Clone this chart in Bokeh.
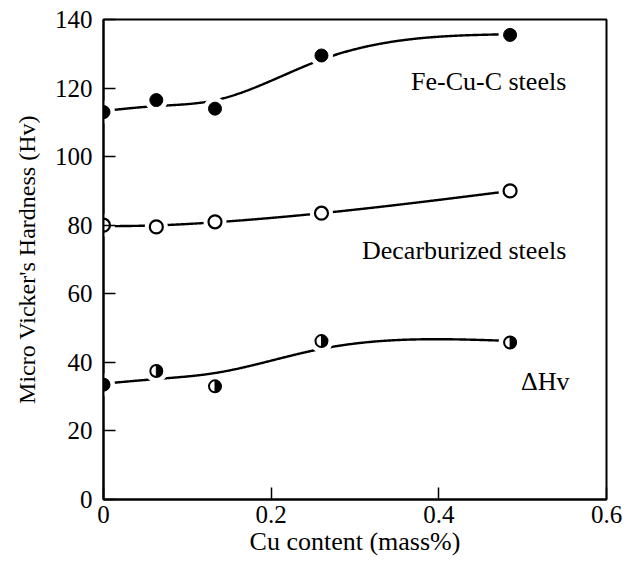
import numpy as np
from bokeh.plotting import figure
from bokeh.models import Range1d, FixedTicker, PrintfTickFormatter
from bokeh.core.properties import value
from bokeh.embed import file_html
from bokeh.resources import INLINE

# ---- data ----
cu_content = [0.0, 0.063, 0.133, 0.26, 0.485]
fe_cu_c = [113.0, 116.5, 114.0, 129.5, 135.5]
decarburized = [80.0, 79.5, 81.0, 83.5, 90.0]
delta_hv = [33.5, 37.5, 33.0, 46.2, 45.8]

x_ticks = [0, 0.2, 0.4, 0.6]
y_ticks = [0, 20, 40, 60, 80, 100, 120, 140]

labels = ["Fe-Cu-C steels", "Decarburized steels", "\u0394Hv"]

FONT = "Liberation Serif"


def smooth_curve(xd, yd, lam, n=486):
    """Whittaker-type smoothing trend line through the measured points."""
    xd = np.asarray(xd, float)
    yd = np.asarray(yd, float)
    xs = np.linspace(xd.min(), xd.max(), n)
    idx = np.clip(np.round((xd - xd.min()) / (xd.max() - xd.min()) * (n - 1)).astype(int), 0, n - 1)
    w = np.zeros(n)
    z = np.zeros(n)
    w[idx] = 1.0
    z[idx] = yd
    D = np.diff(np.eye(n), 2, axis=0)
    A = np.diag(w) + lam * D.T @ D
    f = np.linalg.solve(A, w * z)
    return xs, f


p = figure(width=622, height=565, output_backend="svg", toolbar_location=None,
           x_range=Range1d(0, 0.6), y_range=Range1d(0, 140),
           min_border_left=103, min_border_right=16, min_border_top=19, min_border_bottom=66,
           background_fill_color="white", border_fill_color="white")
p.xgrid.visible = False
p.ygrid.visible = False
p.outline_line_color = "black"
p.outline_line_width = 2
p.outline_line_alpha = 1

for ax in (p.xaxis[0], p.yaxis[0]):
    ax.axis_line_width = 2
    ax.axis_line_color = "black"
    ax.major_tick_in = 12
    ax.major_tick_out = 0
    ax.major_tick_line_width = 1.5
    ax.minor_tick_line_color = None
    ax.major_label_text_font = FONT
    ax.major_label_text_font_size = "25px"
    ax.major_label_text_color = "black"
    ax.axis_label_text_font = FONT
    ax.axis_label_text_font_style = "normal"
    ax.axis_label_text_color = "black"

p.xaxis.ticker = FixedTicker(ticks=x_ticks)
p.yaxis.ticker = FixedTicker(ticks=y_ticks)
p.xaxis.formatter = PrintfTickFormatter(format="%g")
p.yaxis.formatter = PrintfTickFormatter(format="%g")
p.xaxis.axis_label = "Cu content (mass%)"
p.yaxis.axis_label = "Micro Vicker's Hardness (Hv)"
p.xaxis.axis_label_text_font_size = "26px"
p.yaxis.axis_label_text_font_size = "24px"
p.xaxis.major_label_standoff = 6
p.yaxis.major_label_standoff = 11
p.xaxis.axis_label_standoff = 1
p.yaxis.axis_label_standoff = 12

LINE_W = 2.4
series = [(fe_cu_c, 6e4), (decarburized, 1e5), (delta_hv, 2e5)]
for ys, lam in series:
    xs, f = smooth_curve(cu_content, ys, lam)
    p.line(xs, f, line_color="black", line_width=LINE_W)

# white halos creating the gaps around the markers
for ys in (fe_cu_c, decarburized, delta_hv):
    p.circle(cu_content, ys, radius=11.5, radius_units="screen",
             fill_color="white", fill_alpha=1.0, line_color=None)

# Fe-Cu-C steels : filled circles
p.scatter(cu_content, fe_cu_c, size=13, fill_color="black", line_color="black")
# Decarburized : open circles
p.scatter(cu_content, decarburized, size=13, fill_color="white", line_color="black", line_width=2.2)
# Delta Hv : half-filled circles
p.scatter(cu_content, delta_hv, size=12, fill_color="white", line_color="black", line_width=2)
p.wedge(cu_content, delta_hv, radius=6, radius_units="screen",
        start_angle=-np.pi / 2, end_angle=np.pi / 2,
        fill_color="black", line_color="black", line_width=1)

# series labels
label_x = [0.552, 0.552, 0.556]
label_y = [122, 72.5, 34.5]
p.text(label_x, label_y, text=labels, text_font=value(FONT), text_font_size="26px",
       text_align="right", text_baseline="alphabetic", text_color="black")

open("out.html", "w").write(file_html(p, INLINE))
